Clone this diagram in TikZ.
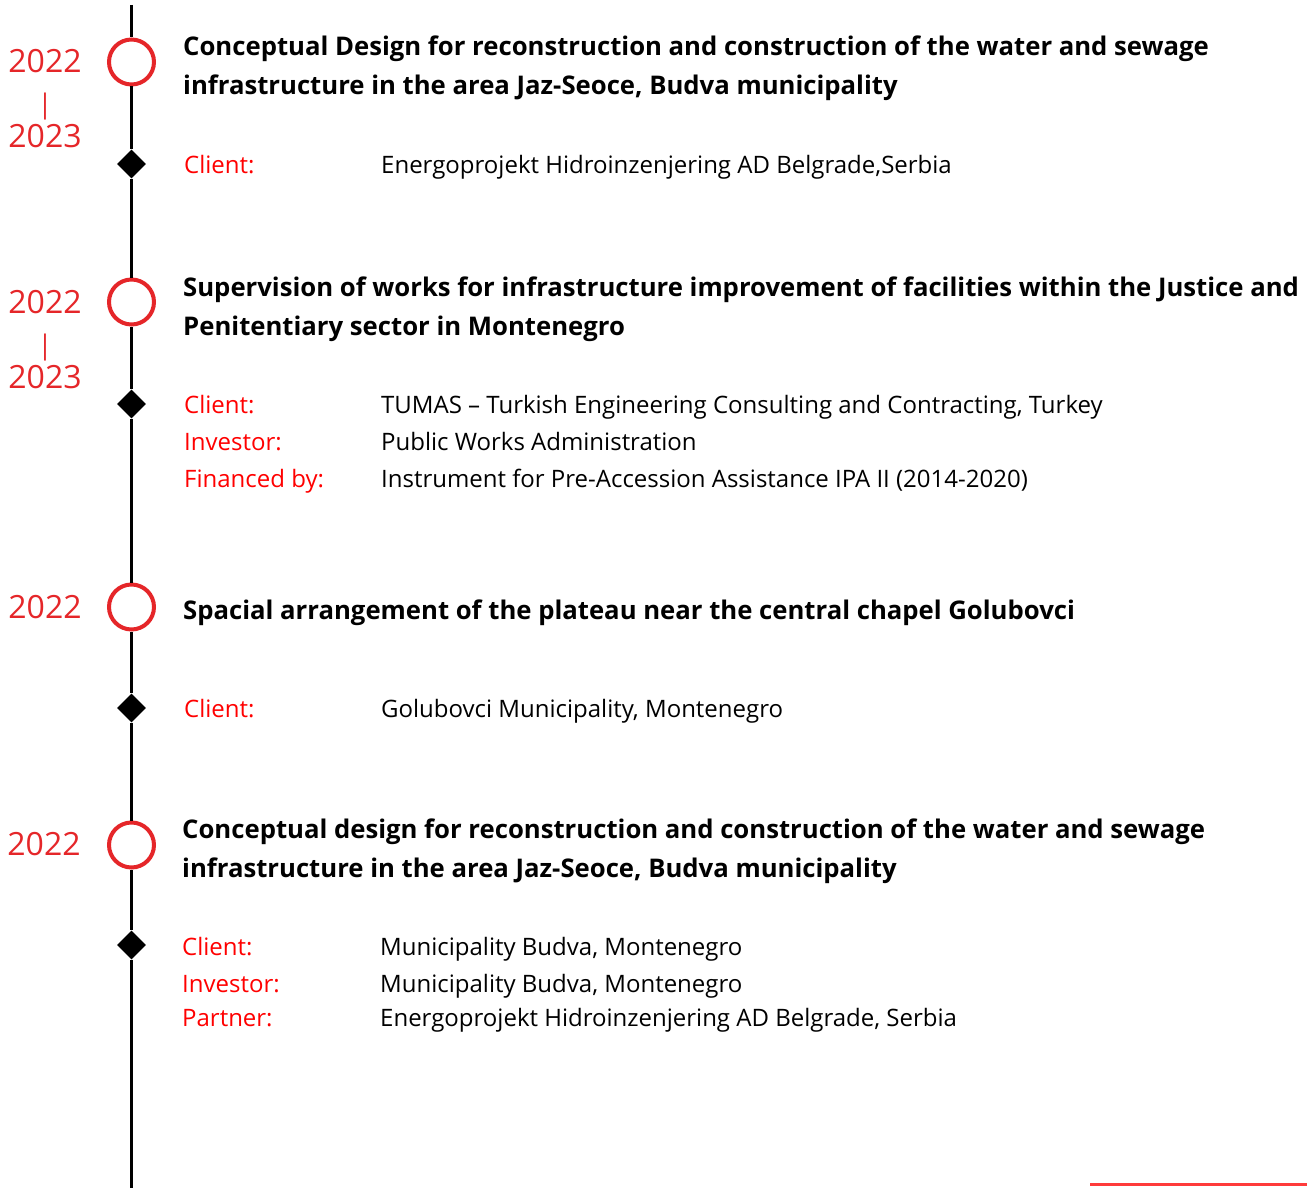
\documentclass[tikz,border=0pt]{standalone}
\usepackage{fontspec}
\setmainfont{Open Sans}
\usetikzlibrary{positioning}
\usetikzlibrary{shapes.geometric}
\definecolor{yearred}{HTML}{E52629}
\definecolor{labelred}{HTML}{FF0000}
\definecolor{barred}{HTML}{FF3B3B}

\begin{document}
\begin{tikzpicture}[x=1pt,y=-1pt,inner sep=0pt]
			\tikzstyle{ring}=[circle,draw=yearred,line width=4pt,fill=white,minimum size=45pt]
			\tikzstyle{gem}=[diamond,fill=black,minimum size=29pt]
			\tikzstyle{year}=[anchor=base,text=yearred,font=\fontsize{32}{38}\selectfont]
			\tikzstyle{yearbar}=[anchor=base,text=yearred,font=\fontsize{27}{32}\selectfont]
			\tikzstyle{title}=[anchor=base west,font=\fontsize{25.7}{30}\selectfont\bfseries]
			\tikzstyle{lbl}=[anchor=base west,text=labelred,font=\fontsize{24}{29}\selectfont]
			\tikzstyle{val}=[anchor=base west,font=\fontsize{24}{29}\selectfont]
			\tikzstyle{timeline}=[draw,line width=3pt]
			
			\useasboundingbox (0,0) rectangle (1307,1188);
			\coordinate (top) at (131.5,5);
			\coordinate (bot) at (131.5,1188);
			
			% first project
			\node[ring] (C_1) at (131.5,62) {};
			\node[gem]  (D_1) at (131.5,164) {};
			\node[year] (Y_1a) at (45,73)  {2022};
			\node[yearbar] (Y_1b) at (45,114) {|};
			\node[year] (Y_1c) at (45,148) {2023};
			\node[title] (T_1a) at (183,56) {Conceptual Design for reconstruction and construction of the water and sewage};
			\node[title] (T_1b) at (183,95) {infrastructure in the area Jaz-Seoce, Budva municipality};
			\node[lbl] (L_1a) at (184,174) {Client:};
			\node[val] (V_1a) at (381,174) {Energoprojekt Hidroinzenjering AD Belgrade,Serbia};
			
			% second project
			\node[ring] (C_2) at (131.5,302) {};
			\node[gem]  (D_2) at (131.5,404) {};
			\node[year] (Y_2a) at (45,313) {2022};
			\node[yearbar] (Y_2b) at (45,354) {|};
			\node[year] (Y_2c) at (45,388) {2023};
			\node[title] (T_2a) at (183,296) {Supervision of works for infrastructure improvement of facilities within the Justice and};
			\node[title] (T_2b) at (183,335) {Penitentiary sector in Montenegro};
			\node[lbl] (L_2a) at (184,413) {Client:};
			\node[val] (V_2a) at (381,413) {TUMAS – Turkish Engineering Consulting and Contracting, Turkey};
			\node[lbl] (L_2b) at (184,450) {Investor:};
			\node[val] (V_2b) at (381,450) {Public Works Administration};
			\node[lbl] (L_2c) at (184,487) {Financed by:};
			\node[val] (V_2c) at (381,487) {Instrument for Pre-Accession Assistance IPA II (2014-2020)};
			
			% third project
			\node[ring] (C_3) at (131.5,607) {};
			\node[gem]  (D_3) at (131.5,708) {};
			\node[year] (Y_3a) at (45,618) {2022};
			\node[title] (T_3a) at (183,619) {Spacial arrangement of the plateau near the central chapel Golubovci};
			\node[lbl] (L_3a) at (184,717) {Client:};
			\node[val] (V_3a) at (381,717) {Golubovci Municipality, Montenegro};
			
			% fourth project
			\node[ring] (C_4) at (131.5,845) {};
			\node[gem]  (D_4) at (131.5,945) {};
			\node[year] (Y_4a) at (44,855) {2022};
			\node[title] (T_4a) at (182,838) {Conceptual design for reconstruction and construction of the water and sewage};
			\node[title] (T_4b) at (182,877) {infrastructure in the area Jaz-Seoce, Budva municipality};
			\node[lbl] (L_4a) at (182,955) {Client:};
			\node[val] (V_4a) at (380,955) {Municipality Budva, Montenegro};
			\node[lbl] (L_4b) at (182,992) {Investor:};
			\node[val] (V_4b) at (380,992) {Municipality Budva, Montenegro};
			\node[lbl] (L_4c) at (182,1026) {Partner:};
			\node[val] (V_4c) at (380,1026) {Energoprojekt Hidroinzenjering AD Belgrade, Serbia};
			
			\draw[timeline] (top) -- (C_1) -- (D_1) -- (C_2) -- (D_2) -- (C_3) -- (D_3) -- (C_4) -- (D_4) -- (bot);
			
			% red rule in the corner
			\coordinate (R_0) at (1090,1184);
			\coordinate (R_1) at (1307,1184);
			\draw[barred,line width=3pt] (R_0) -- (R_1);
\end{tikzpicture}
\end{document}
